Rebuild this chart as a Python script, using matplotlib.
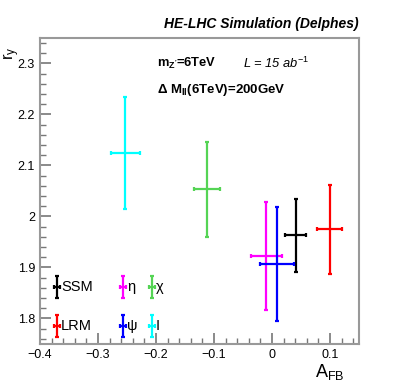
import matplotlib
matplotlib.use("Agg")
import matplotlib.pyplot as plt
from matplotlib.ticker import MultipleLocator, FuncFormatter

plt.rcParams['font.family'] = ['Liberation Sans', 'DejaVu Sans']
plt.rcParams['mathtext.fontset'] = 'custom'
plt.rcParams['mathtext.rm'] = 'Liberation Sans'
plt.rcParams['mathtext.it'] = 'Liberation Sans:italic'
plt.rcParams['mathtext.bf'] = 'Liberation Sans:bold'

# models and their (A_FB, r_y) with errors
models = ['SSM', 'LRM', 'eta', 'psi', 'chi', 'I']
labels = ['SSM', 'LRM', '\u03b7', '\u03c8', '\u03c7', 'I']
colors = ['black', '#ff0000', '#ff00ff', '#0000ff', '#55d455', '#00ffff']
afb = [0.041, 0.099, -0.010, 0.009, -0.112, -0.253]
afb_err = [0.018, 0.022, 0.027, 0.029, 0.022, 0.025]
ry = [1.963, 1.975, 1.922, 1.906, 2.053, 2.125]
ry_err = [0.072, 0.087, 0.106, 0.112, 0.093, 0.110]

# legend marker positions (axes fraction)
leg_x = [0.053, 0.053, 0.26, 0.26, 0.351, 0.351]
leg_y = [0.187, 0.059, 0.187, 0.059, 0.187, 0.059]

fig = plt.figure(figsize=(3.99, 3.83), dpi=100)
ax = fig.add_axes([0.100, 0.102, 0.800, 0.799])

for i in range(len(models)):
	ax.errorbar(afb[i], ry[i], xerr=afb_err[i], yerr=ry_err[i], color=colors[i],
		lw=1.6, capsize=1.5, capthick=1.6, fmt='none')
	ax.errorbar(leg_x[i], leg_y[i], xerr=0.009, yerr=0.036, color=colors[i],
		lw=1.6, capsize=1.2, capthick=1.6, fmt='none', transform=ax.transAxes)
	ax.text(leg_x[i] + 0.013, leg_y[i], labels[i], transform=ax.transAxes,
		fontsize=10.5, va='center', ha='left')

ax.set_xlim(-0.4, 0.15)
ax.set_ylim(1.75, 2.35)
ax.xaxis.set_major_locator(MultipleLocator(0.1))
ax.xaxis.set_minor_locator(MultipleLocator(0.02))
ax.yaxis.set_major_locator(MultipleLocator(0.1))
ax.yaxis.set_minor_locator(MultipleLocator(0.02))

def fmt(v, pos):
	s = ('%.1f' % v).rstrip('0').rstrip('.')
	if s in ('-0', ''):
		s = '0'
	return s.replace('-', '\u2212')

ax.xaxis.set_major_formatter(FuncFormatter(fmt))
ax.yaxis.set_major_formatter(FuncFormatter(fmt))
ax.tick_params(which='both', direction='in', colors='#777777', labelcolor='black',
	labelsize=9)
ax.tick_params(which='major', length=8, width=1.2)
ax.tick_params(which='minor', length=4, width=1.0)
for sp in ax.spines.values():
	sp.set_color('#999999')
	sp.set_linewidth(1.5)

fig.text(0.030, 0.862, r'$\mathrm{r_{y}}$', rotation=90, fontsize=12, ha='center', va='center')
fig.text(0.827, 0.030, r'$\mathrm{A_{FB}}$', fontsize=13, ha='center', va='center')

fig.text(0.900, 0.937, 'HE-LHC Simulation (Delphes)', fontsize=10, fontweight='bold',
	style='italic', ha='right', va='center')
fig.text(0.393, 0.835, r"$\mathbf{m_{Z^{\prime}}}$=6TeV", fontsize=9.3, fontweight='bold',
	ha='left', va='center')
fig.text(0.610, 0.835, r"$\mathit{L}$ = 15 ab$^{-1}$", fontsize=9.3, style='italic',
	ha='left', va='center')
fig.text(0.393, 0.766, r"$\mathbf{\Delta\ M_{ll}}$(6TeV)=200GeV", fontsize=9.5,
	fontweight='bold', ha='left', va='center')

fig.savefig('out.png', dpi=100)
